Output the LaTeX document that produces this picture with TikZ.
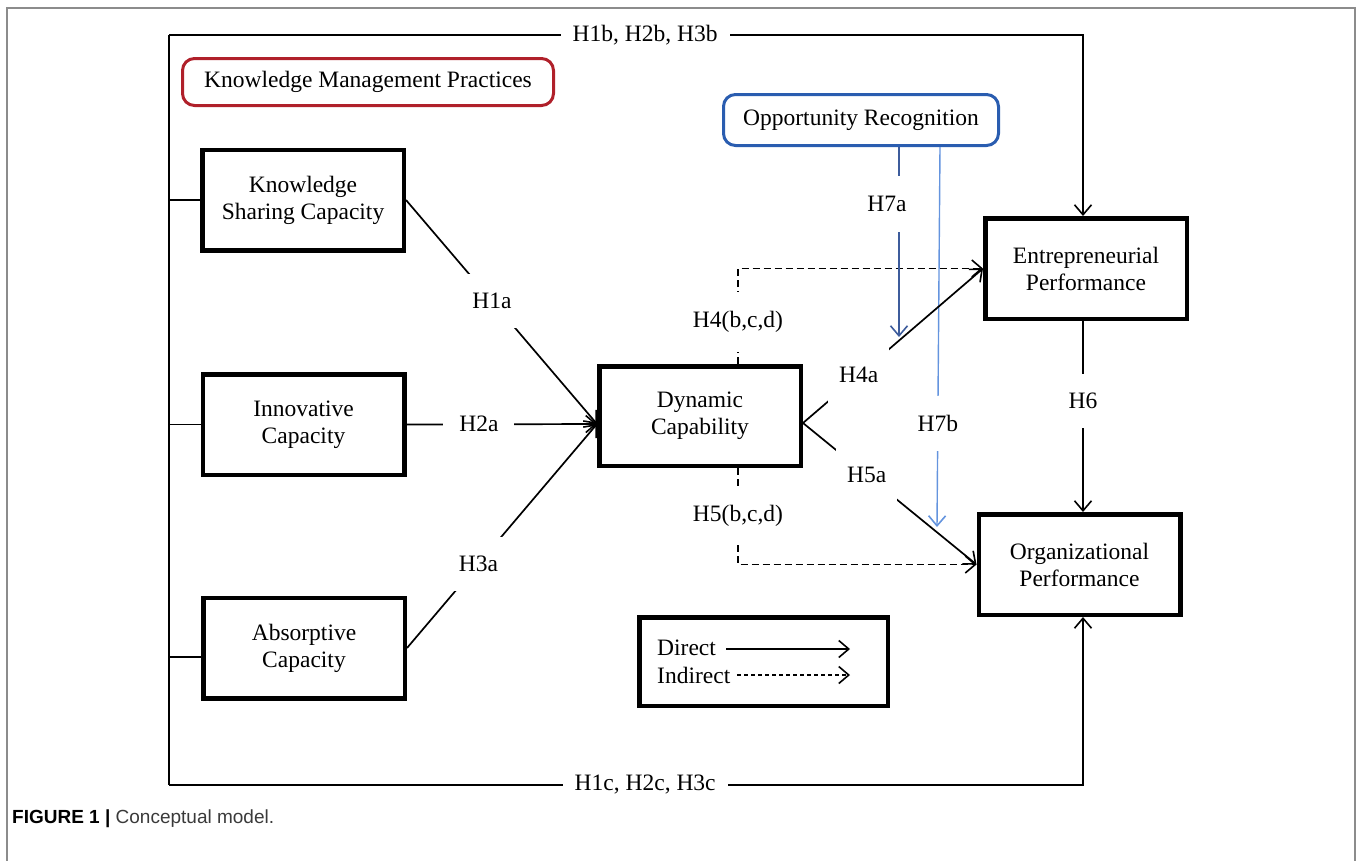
\documentclass[tikz,border=0pt]{standalone}
\usepackage{fontspec}
\setmainfont{Liberation Serif}
\newfontfamily\capfont{Liberation Sans}
\usetikzlibrary{arrows.meta,calc}
\definecolor{kmpred}{HTML}{B0202A}
\definecolor{orblue}{HTML}{2A5DB0}
\definecolor{hsevena}{HTML}{3D5C9C}
\definecolor{hsevenb}{HTML}{6494DE}
\definecolor{framegray}{HTML}{8C8C8C}
\definecolor{capgray}{HTML}{3A3A3A}
\begin{document}
\begin{tikzpicture}[x=1pt,y=-1pt,
  font=\fontsize{23.5}{27}\selectfont,
  box/.style={draw,line width=4.5pt,minimum width=201.5pt,minimum height=100.5pt,align=center,inner sep=2pt},
  rbox/.style={draw,line width=3pt,rounded corners=12pt,align=center,inner sep=2pt},
  conn/.style={line width=1.7pt},
  arr/.style={conn,-{Straight Barb[length=10pt,width=17pt,line width=1.6pt]}},
  dsh/.style={arr,dash pattern=on 7pt off 4pt},
  ldsh/.style={arr,dash pattern=on 4pt off 3pt},
  lbl/.style={fill=white,inner xsep=6pt,inner ysep=19pt},
]
\useasboundingbox (0,0) rectangle (1358,860);
\clip (0,0) rectangle (1358,860);
% outer frame
\draw[framegray,line width=2pt] (7,8) rectangle (1355,880);

% boxes
\node[box] (ksc) at (303,200) {Knowledge\\Sharing Capacity};
\node[box] (ic) at (303.5,424.5) {Innovative\\Capacity};
\node[box] (ac) at (304,648) {Absorptive\\Capacity};
\node[box,minimum height=99.5pt] (dc) at (700,416) {Dynamic\\Capability};
\node[box] (ep) at (1086,268.5) {Entrepreneurial\\Performance};
\node[box] (op) at (1079.5,564.5) {Organizational\\Performance};
\node[rbox,draw=kmpred,minimum width=371pt,minimum height=47pt] (kmp) at (368,82) {Knowledge Management Practices};
\node[rbox,draw=orblue,minimum width=275pt,minimum height=51pt] (orr) at (861,120) {Opportunity Recognition};

% legend
\node[draw,line width=4.5pt,minimum width=248.5pt,minimum height=88.5pt] (leg) at (763.5,661.5) {};
\node[anchor=west,inner sep=0pt] (ldir) at (657,648) {Direct};
\node[anchor=west,inner sep=0pt] (lind) at (657,675) {Indirect};
\coordinate (ldirend) at (850,649);
\coordinate (lindend) at (850,675);
\draw[arr] ([xshift=10pt,yshift=-1pt]ldir.east) -- (ldirend);
\draw[ldsh] ([xshift=7pt]lind.east) -- (lindend);

% left bracket
\coordinate (tl) at (169,35);
\coordinate (bl) at (169,785);
\coordinate (tr) at (1083,35);
\coordinate (br) at (1083,785);
\draw[conn] (tl) -- (bl);
\draw[conn] (ksc.west -| tl) -- (ksc.west);
\draw[conn] (ic.west -| tl) -- (ic.west);
\draw[conn] ($(ac.west -| tl)+(0,9)$) -- ($(ac.west)+(0,9)$);
\draw[arr] (tl) -- node[lbl,pos=0.521,inner xsep=12pt,inner ysep=3pt]{H1b, H2b, H3b} (tr) -- (tr |- ep.north);
\draw[arr] (bl) -- node[lbl,pos=0.521,inner xsep=12pt,inner ysep=3pt]{H1c, H2c, H3c} (br) -- (br |- op.south);

% convergence points on Dynamic Capability
\coordinate (dcw) at ([yshift=-8pt]dc.west);
\coordinate (dce) at ([yshift=-7pt]dc.east);

% a-paths to Dynamic Capability
\draw[arr] (ksc.east) -- node[lbl,pos=0.45]{H1a} (dcw);
\draw[arr] (ic.east) -- node[lbl,pos=0.38,inner xsep=16pt,inner ysep=4pt]{H2a} (dcw);
\draw[arr] (ac.east) -- node[lbl,pos=0.376]{H3a} (dcw);

% indirect paths
\coordinate (hfourc) at (738,268.5);
\coordinate (hfivec) at (738,564.5);
\draw[dsh] (dc.north -| hfourc) -- node[lbl,pos=0.44,inner xsep=3pt]{H4(b,c,d)} (hfourc) -- (ep.west);
\draw[dsh] (dc.south -| hfivec) -- node[lbl,pos=0.5,inner xsep=3pt,inner ysep=16pt]{H5(b,c,d)} (hfivec) -- (op.west);

% moderation by opportunity recognition
\coordinate (hsevenaend) at (899,337);
\coordinate (hsevenbend) at (937,527);
\draw[arr,draw=hsevena,line width=1.4pt] (orr.south -| hsevenaend) -- node[lbl,pos=0.3,xshift=-12pt,inner ysep=20pt]{H7a} (hsevenaend);
\draw[arr,draw=hsevenb,line width=1.4pt] (orr.south -| 940,0) -- node[lbl,pos=0.727]{H7b} (hsevenbend);

% direct paths from Dynamic Capability
\draw[arr] (dce) -- node[lbl,pos=0.31,inner xsep=11pt,inner ysep=20pt]{H4a} (ep.west);
\draw[arr] (dce) -- node[lbl,pos=0.367,inner xsep=11pt,inner ysep=19pt]{H5a} (op.west);

% H6
\draw[arr] (ep.south -| tr) -- node[lbl,pos=0.42]{H6} (op.north -| tr);

% caption
\node[anchor=base west,inner sep=0pt,font=\capfont\fontsize{19}{22}\selectfont] (cap) at (12,823)
  {\textbf{FIGURE 1 |} \textcolor{capgray}{Conceptual model.}};
\end{tikzpicture}
\end{document}
